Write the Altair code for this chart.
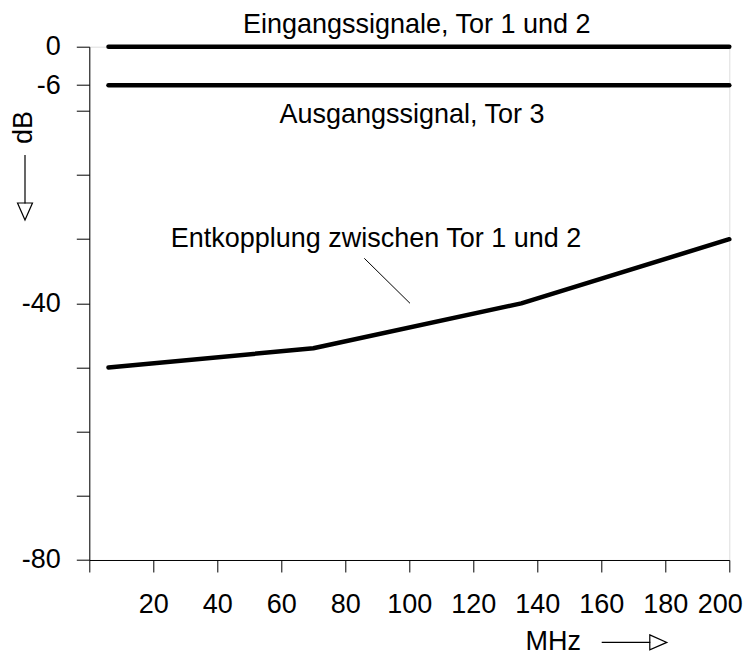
import altair as alt
import pandas as pd

# ---- data ----
flat_freq = [6, 200]
eingang_db = [0, 0]
ausgang_db = [-6, -6]
entk_freq = [6, 70, 135, 200]
entk_db = [-50, -47, -40, -30]

x_ticks = [0, 20, 40, 60, 80, 100, 120, 140, 160, 180, 200]
y_ticks = [0, -6, -10, -20, -30, -40, -50, -60, -70, -80]
y_labels = [0, -6, -40, -80]

FONT = "Liberation Sans"
FS = 27

rows = []
for f, d in zip(flat_freq, eingang_db):
    rows.append({"series": "Eingang", "f": f, "db": d})
for f, d in zip(flat_freq, ausgang_db):
    rows.append({"series": "Ausgang", "f": f, "db": d})
for f, d in zip(entk_freq, entk_db):
    rows.append({"series": "Entkopplung", "f": f, "db": d})
df = pd.DataFrame(rows)

x_axis = alt.Axis(values=x_ticks, labelExpr="datum.value == 0 ? '' : '' + datum.value",
                  title=None, tickSize=12, labelPadding=20, labelFontSize=FS, labelFont=FONT,
                  labelColor="black", domainColor="black", tickColor="black", grid=False,
                  labelFlush=True, labelFlushOffset=13, labelOverlap=False)
y_axis = alt.Axis(values=y_ticks,
                  labelExpr=f"indexof({y_labels}, datum.value) >= 0 ? '' + datum.value : ''",
                  title=None, tickSize=13, labelPadding=16, labelFontSize=FS, labelFont=FONT,
                  labelColor="black", domainColor="black", tickColor="black", grid=False,
                  labelFlush=False, labelOverlap=False)

lines = alt.Chart(df).mark_line(color="black", strokeWidth=4.5, strokeCap="round",
                                strokeJoin="round").encode(
    x=alt.X("f:Q", scale=alt.Scale(domain=[0, 200], nice=False, zero=False), axis=x_axis),
    y=alt.Y("db:Q", scale=alt.Scale(domain=[-80, 0], nice=False), axis=y_axis),
    detail="series:N",
)

one = pd.DataFrame({"a": [0]})


def label(txt, x, y, angle=0, baseline="alphabetic"):
    return alt.Chart(pd.DataFrame({"t": [txt]})).mark_text(
        font=FONT, fontSize=FS, color="black", align="center", baseline=baseline, angle=angle
    ).encode(text="t:N", x=alt.value(x), y=alt.value(y))


t1 = label("Eingangssignale, Tor 1 und 2", 327.4, -14.2)
t2 = label("Ausgangssignal, Tor 3", 322.7, 76.3)
t3 = label("Entkopplung zwischen Tor 1 und 2", 286.7, 200.3)
t_db = label("dB", -65.3, 80.8, angle=270, baseline="middle")
t_mhz = label("MHz", 464, 603)

leader = alt.Chart(one).mark_rule(color="black", strokeWidth=1).encode(
    x=alt.value(275), y=alt.value(211.6), x2=alt.value(320.7), y2=alt.value(256.6))

db_shaft = alt.Chart(one).mark_rule(color="black", strokeWidth=1.2).encode(
    x=alt.value(-64.3), y=alt.value(108.3), y2=alt.value(156.8))
db_head = alt.Chart(one).mark_point(shape="M-0.88,-1L0.88,-1L0,1Z", size=289, filled=False,
                                    color="black", strokeWidth=1.2, opacity=1).encode(
    x=alt.value(-64.3), y=alt.value(164.8))

mhz_shaft = alt.Chart(one).mark_rule(color="black", strokeWidth=1.2).encode(
    x=alt.value(512.4), x2=alt.value(561), y=alt.value(595.7))
mhz_head = alt.Chart(one).mark_point(shape="M-1,-0.88L1,0L-1,0.88Z", size=289, filled=False,
                                     color="black", strokeWidth=1.2, opacity=1).encode(
    x=alt.value(569), y=alt.value(595.7))

chart = alt.layer(lines, t1, t2, t3, t_db, t_mhz, leader, db_shaft, db_head,
                  mhz_shaft, mhz_head).properties(
    width=640, height=513.3,
    autosize=alt.AutoSizeParams(type="none"),
    padding={"left": 81.3, "top": 38.7, "right": 15.5, "bottom": 96},
).configure_view(stroke="black", strokeWidth=1).configure(background="white")

chart.save("out.html", embed_options={"renderer": "svg", "actions": False})
